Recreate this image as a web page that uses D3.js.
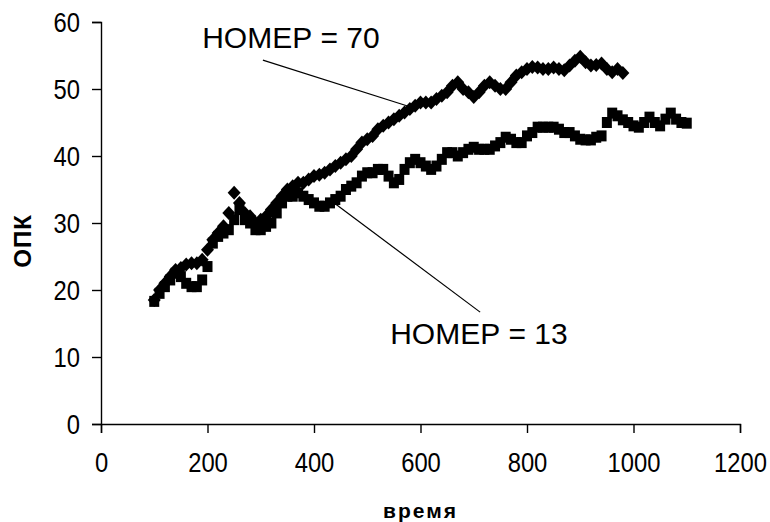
<!DOCTYPE html>
<html>
<head>
<meta charset="utf-8">
<script src="https://cdn.jsdelivr.net/npm/d3@7"></script>
<style>
  body { margin: 0; background: #fff; }
  svg { display: block; }
  text { font-family: "Liberation Sans", Arial, sans-serif; fill: #000; }
</style>
</head>
<body>
<div class="chart-container"></div>
<script>
// data (x = время, y = ОПК)
const timeN70 = [100, 110, 120, 130, 140, 150, 160, 170, 180, 190, 200, 210, 220, 230, 240, 250, 260, 270, 280, 290,
  300, 310, 320, 330, 340, 350, 360, 370, 380, 390, 400, 410, 420, 430, 440, 450, 460, 470, 480, 490,
  500, 510, 520, 530, 540, 550, 560, 570, 580, 590, 600, 610, 620, 630, 640, 650, 660, 670, 680, 690,
  700, 710, 720, 730, 740, 750, 760, 770, 780, 790, 800, 810, 820, 830, 840, 850, 860, 870, 880, 890,
  900, 910, 920, 930, 940, 950, 960, 970, 980];
const opkN70 = [18.5, 20, 21, 22, 23, 23.3, 23.8, 24, 24, 24.5, 26, 27.5, 28.5, 29.5, 31.5, 34.5, 33, 31.5, 31, 30,
  30.5, 31, 32, 33, 34, 35, 35.5, 36, 36, 36.5, 37, 37.2, 37.5, 38, 38.5, 39, 39.5, 40, 41, 42,
  42.5, 43, 44, 44.5, 45, 45.5, 46, 46.5, 47, 47.5, 48, 48, 48, 48.5, 49, 49.5, 50.5, 51, 50, 49.5,
  48.8, 49.5, 50.5, 51, 50.5, 50, 50, 51, 52, 52.5, 53, 53.3, 53.2, 53, 53, 53.2, 53, 52.8, 53.5, 54.2,
  54.8, 54, 53.5, 53.6, 53.8, 53, 52.5, 53, 52.4];

const timeN13 = [100, 110, 120, 130, 140, 150, 160, 170, 180, 190, 200, 210, 220, 230, 240, 250, 260, 270, 280, 290,
  300, 310, 320, 330, 340, 350, 360, 370, 380, 390, 400, 410, 420, 430, 440, 450, 460, 470, 480, 490,
  500, 510, 520, 530, 540, 550, 560, 570, 580, 590, 600, 610, 620, 630, 640, 650, 660, 670, 680, 690,
  700, 710, 720, 730, 740, 750, 760, 770, 780, 790, 800, 810, 820, 830, 840, 850, 860, 870, 880, 890,
  900, 910, 920, 930, 940, 950, 960, 970, 980, 990, 1000, 1010, 1020, 1030, 1040, 1050, 1060, 1070, 1080, 1090,
  1100];
const opkN13 = [18.3, 19.5, 20.5, 21.5, 22.5, 22, 21, 20.5, 20.5, 21.5, 23.5, 27, 28, 28.5, 29, 30.5, 32, 30.5, 30, 29,
  29, 29.5, 30, 31.5, 33, 34, 34, 34.5, 34, 33.5, 33, 32.5, 32.5, 33, 33.5, 34, 35, 35.5, 36, 37,
  37.5, 37.5, 38, 38, 37, 36, 36.5, 38, 39, 39.5, 39, 38.5, 38, 38.5, 39.5, 40.5, 40.5, 40, 40.5, 41,
  41.3, 41, 41, 41, 41.5, 42, 42.8, 42.5, 42, 42, 43, 43.5, 44.3, 44.3, 44.3, 44.3, 44, 43.5, 43.5, 43,
  42.5, 42.4, 42.4, 42.8, 43, 45, 46.4, 46, 45.4, 45, 44.5, 44.3, 45, 45.8, 45, 44.5, 45.5, 46.4, 45.5, 45,
  44.9];

const xTicks = [0, 200, 400, 600, 800, 1000, 1200];
const yTicks = [0, 10, 20, 30, 40, 50, 60];

// labels with leader lines, in data units
const labels = [
  { text: "НОМЕР = 70", x: 190, y: 57.8, from: [304, 54.3], to: [586, 47.2] },
  { text: "НОМЕР = 13", x: 543, y: 13.6, from: [436, 33.1], to: [712, 16.7] },
];

const width = 770;
const height = 522;

const svg = d3.select(".chart-container").append("svg")
  .attr("width", width)
  .attr("height", height);

svg.append("rect").attr("width", width).attr("height", height).attr("fill", "#fff");

const x = d3.scaleLinear().domain([0, 1200]).range([101, 740]);
const y = d3.scaleLinear().domain([0, 60]).range([424, 22]);

const squeeze = 0.85; // tick font looks narrow

// x axis
const xAxis = svg.append("g")
  .attr("transform", `translate(0,${y(0)})`)
  .call(d3.axisBottom(x).tickValues(xTicks).tickFormat(d3.format("d")).tickSize(9).tickSizeOuter(9));
xAxis.selectAll("text")
  .attr("y", 48).attr("dy", 0)
  .attr("transform", `scale(${squeeze},1)`)
  .style("font-size", "28px");

// y axis
const yAxis = svg.append("g")
  .attr("transform", `translate(${x(0)},0)`)
  .call(d3.axisLeft(y).tickValues(yTicks).tickFormat(d3.format("d")).tickSize(9).tickSizeOuter(9));
yAxis.selectAll("text")
  .attr("x", -21 / squeeze).attr("dy", "0.35em")
  .attr("transform", `scale(${squeeze},1)`)
  .style("font-size", "28px");

svg.selectAll(".domain, .tick line").attr("stroke", "#000").attr("stroke-width", 1.4);
svg.selectAll(".tick text").attr("font-family", null);

// axis titles
svg.append("text")
  .attr("x", (x(0) + x(1200)) / 2)
  .attr("y", 518)
  .attr("text-anchor", "middle")
  .style("font-size", "21px")
  .style("font-weight", "bold")
  .style("letter-spacing", "2px")
  .text("время");

svg.append("text")
  .attr("transform", `translate(31,${(y(0) + y(60)) / 2 + 18}) rotate(-90)`)
  .attr("text-anchor", "middle")
  .style("font-size", "24px")
  .style("font-weight", "bold")
  .style("letter-spacing", "1px")
  .text("ОПК");

// series НОМЕР = 13: squares
const n13 = timeN13.map((t, i) => ({ t, v: opkN13[i] }));
svg.append("g").selectAll("rect")
  .data(n13)
  .enter()
  .append("rect")
  .attr("x", (d) => x(d.t) - 5)
  .attr("y", (d) => y(d.v) - 5.5)
  .attr("width", 10)
  .attr("height", 11)
  .attr("fill", "#000");

// series НОМЕР = 70: diamonds
const n70 = timeN70.map((t, i) => ({ t, v: opkN70[i] }));
svg.append("g").selectAll("path")
  .data(n70)
  .enter()
  .append("path")
  .attr("transform", (d) => `translate(${x(d.t)},${y(d.v)})`)
  .attr("d", "M0,-7L6.5,0L0,7L-6.5,0Z")
  .attr("fill", "#000");

// leader lines + labels
labels.forEach((l) => {
  svg.append("line")
    .attr("x1", x(l.from[0])).attr("y1", y(l.from[1]))
    .attr("x2", x(l.to[0])).attr("y2", y(l.to[1]))
    .attr("stroke", "#000")
    .attr("stroke-width", 1.2);
  svg.append("text")
    .attr("x", x(l.x))
    .attr("y", y(l.y) + 11)
    .style("font-size", "30px")
    .text(l.text);
});
</script>
</body>
</html>
